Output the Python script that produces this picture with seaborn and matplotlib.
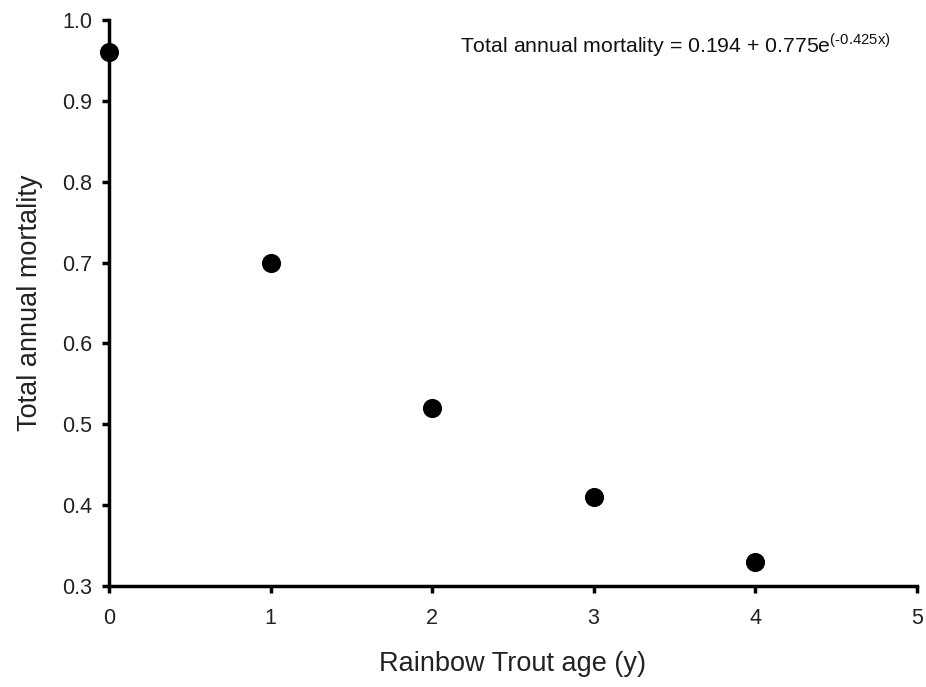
import numpy as np
import pandas as pd
import seaborn as sns
import matplotlib as mpl
mpl.use('Agg')
import matplotlib.pyplot as plt

# data
age = [0, 1, 2, 3, 4]
mortality = [0.96, 0.70, 0.52, 0.41, 0.33]

x_ticks = [0, 1, 2, 3, 4, 5]
y_ticks = [0.3, 0.4, 0.5, 0.6, 0.7, 0.8, 0.9, 1.0]

sns.set_style("ticks")
plt.rcParams['font.family'] = ['Liberation Sans', 'DejaVu Sans']
plt.rcParams['mathtext.fontset'] = 'custom'
plt.rcParams['mathtext.rm'] = 'Liberation Sans'

df = pd.DataFrame({'age': age, 'mortality': mortality})

fig, ax = plt.subplots(figsize=(9.26, 6.87), dpi=100)
sns.scatterplot(ax=ax, data=df, x='age', y='mortality', color='black',
                s=190, edgecolor='black', linewidth=0, clip_on=False, zorder=10)

ax.set_xlim(0, 5)
ax.set_ylim(0.3, 1.0)
ax.set_xticks(x_ticks)
ax.set_yticks(y_ticks)
ax.set_xticklabels([str(t) for t in x_ticks])
ax.set_yticklabels(["%.1f" % t for t in y_ticks])
ax.tick_params(direction='out', length=5, width=2.5, labelsize=15.5,
               colors='black')
ax.tick_params(axis='x', pad=11)
ax.tick_params(axis='y', pad=7)
ax.tick_params(colors='#222222', which='both', color='black')
for s in ['left', 'bottom']:
    ax.spines[s].set_linewidth(2.5)
    ax.spines[s].set_color('black')
sns.despine(ax=ax)

ax.set_xlabel("Rainbow Trout age (y)", fontsize=19.5, labelpad=16, color='#222222')
ax.set_ylabel("Total annual mortality", fontsize=19.5, labelpad=14, color='#222222')

ax.text(0.435, 0.955,
        r"Total annual mortality = 0.194 + 0.775e$^{\text{(-0.425x)}}$",
        transform=ax.transAxes, fontsize=15.3, ha='left', va='center',
        color='#111111')

fig.subplots_adjust(left=0.1177, right=0.990, top=0.971, bottom=0.147)
plt.savefig('out.png', dpi=100)
